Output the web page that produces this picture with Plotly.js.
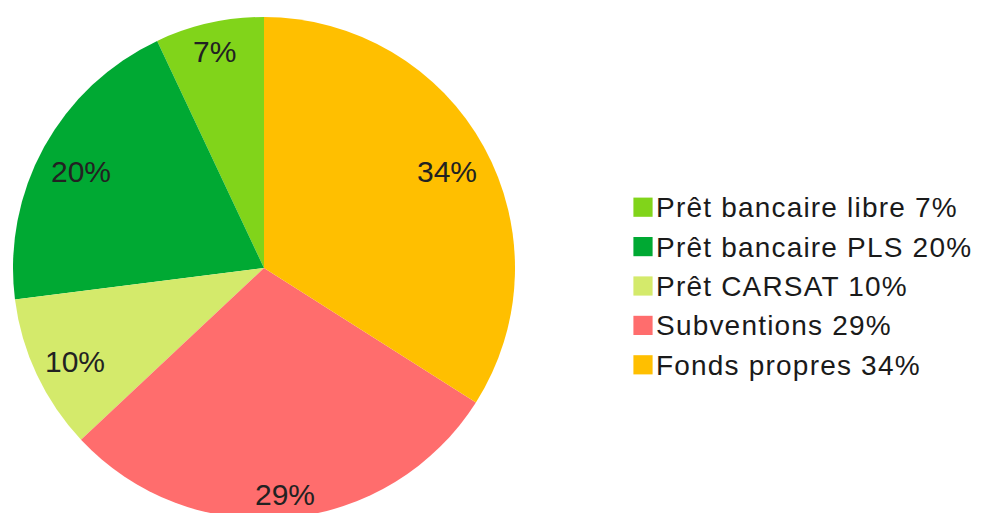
<!DOCTYPE html>
<html>
<head>
<meta charset="utf-8">
<script src="https://cdn.plot.ly/plotly-3.0.1.min.js"></script>
<style>
html, body { margin: 0; padding: 0; overflow: hidden; background: #ffffff; }
#chart { width: 984px; height: 536px; }
#chart .legendtext { letter-spacing: 1.2px; }
#chart .legend .scrollbox { clip-path: none !important; }
</style>
</head>
<body>
<div id="chart"></div>
<script>
// Data
const categories = ["Prêt bancaire libre", "Prêt bancaire PLS", "Prêt CARSAT", "Subventions", "Fonds propres"];
const values = [7, 20, 10, 29, 34];
const colors = ["#81d41a", "#00a933", "#d4ea6b", "#ff6d6d", "#ffbf00"];

const W = 984, H = 536, VIEW_H = 513;
const FONT = "Liberation Sans, Arial, sans-serif";
const labelSize = 30;

const total = values.reduce((a, b) => a + b, 0);
const pctText = values.map(v => Math.round(v / total * 100) + "%");
const legendLabels = categories.map((c, i) => c + " " + pctText[i]);

const domX = [13 / W, 515 / W];
const domY = [1 - 519 / H, 1 - 17 / H];

// Geometry of the pie (same as Plotly's: radius = half of the smaller domain side)
const cx = (domX[0] + domX[1]) / 2 * W;
const cy = (1 - (domY[0] + domY[1]) / 2) * H;
const R = Math.min((domX[1] - domX[0]) * W, (domY[1] - domY[0]) * H) / 2;

// Measure label text to keep each label fully inside the outer edge
const ctx = document.createElement("canvas").getContext("2d");
ctx.font = labelSize + "px Liberation Sans";

const annotations = [];
let cum = 0;
values.forEach((v, i) => {
  const mid = (cum + v / 2) / total * 2 * Math.PI; // counterclockwise from 12 o'clock
  cum += v;
  const hw = ctx.measureText(pctText[i]).width / 2;
  const hh = labelSize * 0.37;
  const proj = hw * Math.abs(Math.sin(mid)) + hh * Math.abs(Math.cos(mid));
  const rc = R - 10 - proj;
  const px = cx - rc * Math.sin(mid);
  let py = cy - rc * Math.cos(mid) + 4; // optical centring of digits
  py = Math.min(py, VIEW_H - labelSize * 0.62); // keep the text box inside the visible window
  annotations.push({
    x: px / W, y: 1 - py / H, xref: "paper", yref: "paper",
    xanchor: "center", yanchor: "middle",
    text: pctText[i], showarrow: false,
    font: { family: FONT, size: labelSize, color: "#222222" }
  });
});

const trace = {
  type: "pie",
  labels: legendLabels,
  values: values,
  sort: false,
  direction: "counterclockwise",
  rotation: -360 * values[0] / total,
  marker: { colors: colors, line: { width: 0 } },
  textinfo: "none",
  hoverinfo: "none",
  domain: { x: domX, y: domY }
};

const layout = {
  width: W,
  height: H,
  margin: { l: 0, r: 0, t: 0, b: 0 },
  paper_bgcolor: "#ffffff",
  showlegend: true,
  annotations: annotations,
  legend: {
    x: 616 / W,
    xanchor: "left",
    y: 1 - 285 / H,
    yanchor: "middle",
    font: { family: FONT, size: 28, color: "#1a1a1a" },
    bgcolor: "rgba(0,0,0,0)",
    borderwidth: 0
  }
};

function fixLegend(gd) {
  gd.querySelectorAll("path.legendpie").forEach(function (p) {
    if (!p.hasAttribute("data-orig")) {
      p.setAttribute("data-orig", p.getAttribute("transform") || "");
    }
    p.setAttribute("transform", p.getAttribute("data-orig") + " translate(7,1) scale(1.6)");
  });
}

Plotly.newPlot("chart", [trace], layout, { staticPlot: true, displayModeBar: false }).then(function (gd) {
  fixLegend(gd);
  gd.on("plotly_afterplot", function () { fixLegend(gd); });
  setTimeout(function () { fixLegend(gd); }, 50);
});
</script>
</body>
</html>
